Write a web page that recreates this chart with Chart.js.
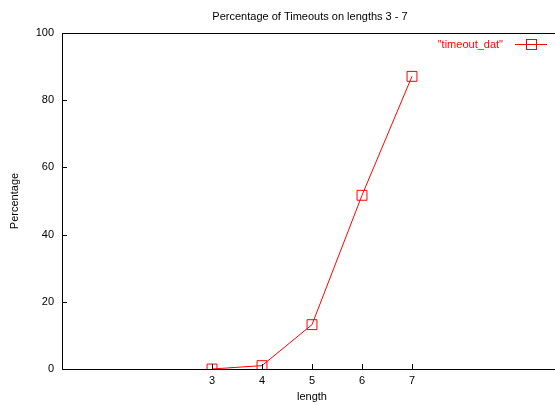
<!DOCTYPE html>
<html>
<head>
<meta charset="utf-8">
<script src="https://cdn.jsdelivr.net/npm/chart.js@4/dist/chart.umd.min.js"></script>
<style>
  html, body { margin: 0; padding: 0; background: #fff; overflow: hidden; }
  #wrap { width: 570px; height: 405px; }
</style>
</head>
<body>
<div id="wrap"><canvas id="timeoutChart" width="570" height="405"></canvas></div>
<script>
// Timeout percentages per length
const lengths = [3, 4, 5, 6, 7];
const timeoutPct = [0, 1.0, 13.2, 51.7, 87.1];
const xTicks = [3, 4, 5, 6, 7];
const yTicks = [0, 20, 40, 60, 80, 100];
const seriesName = '"timeout_dat"';

const font = { family: 'Liberation Sans, Arial, sans-serif', size: 11 };

// Frame, inward tick marks and the key in the top right corner
const framePlugin = {
    id: 'frame',
    afterDraw(chart) {
        const { ctx, chartArea: a, scales } = chart;
        ctx.save();
        ctx.strokeStyle = '#000';
        ctx.lineWidth = 1;
        ctx.strokeRect(a.left + 0.5, a.top + 0.5, a.right - a.left, a.bottom - a.top);
        ctx.beginPath();
        xTicks.forEach(v => {
            const x = Math.round(scales.x.getPixelForValue(v)) + 0.5;
            ctx.moveTo(x, a.bottom);
            ctx.lineTo(x, a.bottom - 5);
        });
        yTicks.forEach(v => {
            const y = Math.round(scales.y.getPixelForValue(v)) + 0.5;
            ctx.moveTo(a.left, y);
            ctx.lineTo(a.left + 5, y);
        });
        ctx.stroke();

        // key
        const ky = 44.5;
        ctx.fillStyle = '#ff0000';
        ctx.strokeStyle = '#ff0000';
        ctx.font = `${font.size}px ${font.family}`;
        ctx.textAlign = 'right';
        ctx.textBaseline = 'middle';
        ctx.fillText(seriesName, 503, ky);
        ctx.beginPath();
        ctx.moveTo(515, ky);
        ctx.lineTo(547, ky);
        ctx.stroke();
        ctx.strokeRect(526.5, ky - 5, 10, 10);
        ctx.restore();
    }
};

new Chart(document.getElementById('timeoutChart'), {
    type: 'line',
    data: {
        labels: lengths,
        datasets: [{
            label: seriesName,
            data: lengths.map((x, i) => ({ x: x, y: timeoutPct[i] })),
            borderColor: '#ff0000',
            borderWidth: 1,
            pointStyle: 'rect',
            pointRadius: 7,
            pointBorderWidth: 1,
            pointBorderColor: '#ff0000',
            pointBackgroundColor: 'rgba(0,0,0,0)',
            tension: 0
        }]
    },
    options: {
        responsive: false,
        animation: false,
        layout: { padding: { top: 33, right: 8, left: 0, bottom: 0 } },
        plugins: {
            legend: { display: false },
            tooltip: { enabled: false },
            title: { display: false }
        },
        scales: {
            x: {
                type: 'linear',
                min: 0,
                max: 10,
                afterBuildTicks: s => { s.ticks = xTicks.map(v => ({ value: v })); },
                afterFit: s => { s.height = 36; },
                grid: { display: false, drawTicks: false },
                border: { display: false },
                ticks: { color: '#000', font: font, padding: 5, maxRotation: 0 },
                title: { display: true, text: 'length', color: '#000', font: font, padding: { top: 0, bottom: 1 } }
            },
            y: {
                min: 0,
                max: 100,
                afterBuildTicks: s => { s.ticks = yTicks.map(v => ({ value: v })); },
                afterFit: s => { s.width = 62; },
                grid: { display: false, drawTicks: false },
                border: { display: false },
                ticks: { color: '#000', font: font, padding: 8 },
                title: { display: true, text: 'Percentage', color: '#000', font: font, padding: { top: 8, bottom: 0 } }
            }
        }
    },
    plugins: [framePlugin, {
        id: 'topTitle',
        afterDraw(chart) {
            const ctx = chart.ctx;
            ctx.save();
            ctx.fillStyle = '#000';
            ctx.font = `${font.size}px ${font.family}`;
            ctx.textAlign = 'center';
            ctx.textBaseline = 'middle';
            ctx.fillText('Percentage of Timeouts on lengths 3 - 7', 310, 17);
            ctx.restore();
        }
    }]
});
</script>
</body>
</html>
